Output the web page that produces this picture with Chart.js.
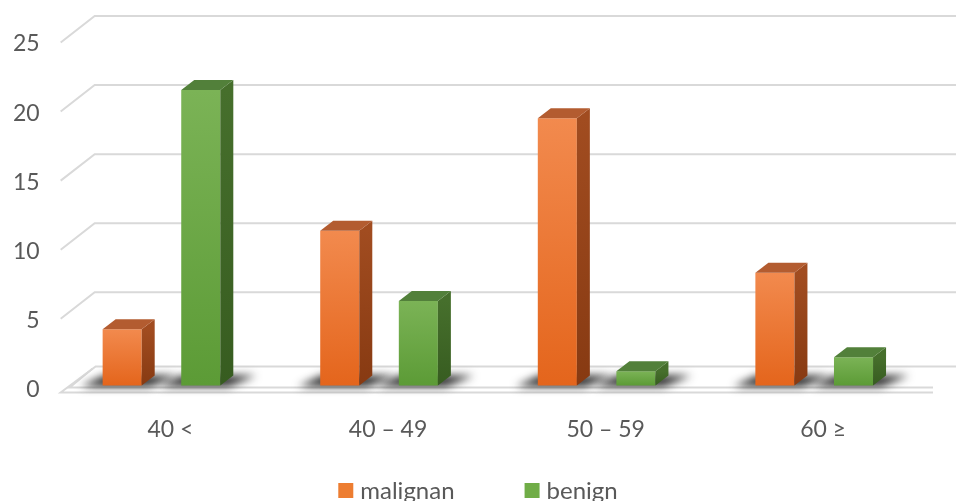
<!DOCTYPE html>
<html>
<head>
<meta charset="utf-8">
<script src="https://cdn.jsdelivr.net/npm/chart.js@4.4.1/dist/chart.umd.min.js"></script>
<style>
  html, body { margin: 0; padding: 0; background: #fff; }
  #wrap { width: 956px; height: 501px; }
</style>
</head>
<body>
<div id="wrap"><canvas id="bar3d" width="956" height="501"></canvas></div>
<script>
var categories = ['40 <', '40 \u2013 49', '50 \u2013 59', '60 \u2265'];
var seriesNames = ['malignan', 'benign'];
var malignan = [4, 11, 19, 8];
var benign = [21, 6, 1, 2];
var yTicks = [0, 5, 10, 15, 20, 25];

var textColor = '#595959';
var gridColor = '#d9d9d9';
var fontFam = 'Lato, "Open Sans", sans-serif';

// front / side / top colours per series
var faces = [
    { light: '#f28a4e', dark: '#e4651c', side1: '#a14c20', side2: '#873a12', top: '#b35c30', key: '#ed7d31' },
    { light: '#7bb356', dark: '#5c9b36', side1: '#466f2c', side2: '#375c20', top: '#52803a', key: '#70ad47' }
];

function frontFill(c) {
    var f = faces[c.datasetIndex];
    var ch = c.chart;
    if (!ch.chartArea || !ch.scales.y2 || c.parsed == null) return f.dark;
    var top = ch.scales.y2.getPixelForValue(c.parsed.y);
    var base = ch.scales.y2.getPixelForValue(0);
    var g = ch.ctx.createLinearGradient(0, top, 0, base);
    g.addColorStop(0, f.light);
    g.addColorStop(1, f.dark);
    return g;
}

var depthBar = { dx: 13, dy: -10 };

var wall3d = {
    id: 'wall3d',
    beforeDatasetsDraw: function (chart) {
        var ctx = chart.ctx, a = chart.chartArea, yl = chart.scales.y;
        ctx.save();
        ctx.strokeStyle = gridColor;
        ctx.lineWidth = 2;
        // back wall gridlines
        yTicks.forEach(function (v) {
            if (v === 0) return;
            var p = yl.getPixelForValue(v);
            ctx.beginPath();
            ctx.moveTo(a.left + 8, p - 1.5);
            ctx.lineTo(a.left + 42, p - 28);
            ctx.lineTo(chart.width, p - 28);
            ctx.stroke();
        });
        // floor slab
        var p0 = yl.getPixelForValue(0);
        ctx.beginPath();
        ctx.moveTo(chart.width, p0 - 23);
        ctx.lineTo(a.left + 43, p0 - 23);
        ctx.lineTo(a.left + 8, p0 + 3);
        ctx.lineTo(a.right + 10, p0 + 3);
        ctx.stroke();
        ctx.beginPath();
        ctx.moveTo(a.left + 40, p0 - 21);
        ctx.lineTo(a.left + 17, p0 - 2);
        ctx.lineTo(a.right + 10, p0 - 2);
        ctx.stroke();
        // shadows under bars
        ctx.filter = 'blur(4px)';
        ctx.fillStyle = 'rgba(20,20,20,0.92)';
        chart.data.datasets.forEach(function (ds, di) {
            chart.getDatasetMeta(di).data.forEach(function (el) {
                var x0 = el.x - el.width / 2, x1 = el.x + el.width / 2, b = el.base;
                ctx.beginPath();
                ctx.moveTo(x0 - 22, b + 1);
                ctx.lineTo(x1 + 8, b + 1);
                ctx.lineTo(x1 + 36, b - 10);
                ctx.lineTo(x0 + 2, b - 10);
                ctx.closePath();
                ctx.fill();
            });
        });
        ctx.restore();
    },
    afterDatasetsDraw: function (chart) {
        var ctx = chart.ctx;
        var dx = depthBar.dx, dy = depthBar.dy;
        ctx.save();
        chart.data.datasets.forEach(function (ds, di) {
            var f = faces[di];
            chart.getDatasetMeta(di).data.forEach(function (el) {
                var x0 = el.x - el.width / 2, x1 = el.x + el.width / 2;
                var t = el.y, b = el.base;
                var g = ctx.createLinearGradient(0, t, 0, b);
                g.addColorStop(0, f.side1);
                g.addColorStop(1, f.side2);
                ctx.fillStyle = g;
                ctx.beginPath();
                ctx.moveTo(x1, t);
                ctx.lineTo(x1 + dx, t + dy);
                ctx.lineTo(x1 + dx, b + dy);
                ctx.lineTo(x1, b);
                ctx.closePath();
                ctx.fill();
                ctx.fillStyle = f.top;
                ctx.beginPath();
                ctx.moveTo(x0, t);
                ctx.lineTo(x0 + dx, t + dy);
                ctx.lineTo(x1 + dx, t + dy);
                ctx.lineTo(x1, t);
                ctx.closePath();
                ctx.fill();
            });
        });
        ctx.restore();
    },
    afterDraw: function (chart) {
        // legend, drawn below the axis labels
        var ctx = chart.ctx;
        ctx.save();
        ctx.font = '24px ' + fontFam;
        ctx.textBaseline = 'middle';
        ctx.textAlign = 'left';
        var box = 15, gap = 7, between = 70;
        var widths = seriesNames.map(function (n) { return box + gap + ctx.measureText(n).width; });
        var x = (chart.width - (widths[0] + between + widths[1])) / 2;
        var y = 490;
        seriesNames.forEach(function (n, i) {
            ctx.fillStyle = faces[i].key;
            ctx.fillRect(x, y - 7, box, box);
            ctx.fillStyle = textColor;
            ctx.fillText(n, x + box + gap, y + 1);
            x += widths[i] + between;
        });
        ctx.restore();
    }
};

var config = {
    type: 'bar',
    data: {
        labels: categories,
        datasets: [{
            label: seriesNames[0],
            data: malignan,
            yAxisID: 'y2',
            backgroundColor: frontFill,
            borderWidth: 0,
            categoryPercentage: 0.7225,
            barPercentage: 0.497
        }, {
            label: seriesNames[1],
            data: benign,
            yAxisID: 'y2',
            backgroundColor: frontFill,
            borderWidth: 0,
            categoryPercentage: 0.7225,
            barPercentage: 0.497
        }]
    },
    options: {
        responsive: false,
        animation: false,
        layout: { padding: { top: 44, left: 0, right: 33, bottom: 32 } },
        plugins: {
            legend: { display: false },
            tooltip: { enabled: false }
        },
        scales: {
            x: {
                grid: { display: false, drawTicks: false },
                border: { display: false },
                ticks: { color: textColor, font: { family: fontFam, size: 23 }, padding: 26, labelOffset: 9 }
            },
            y: {
                min: 0,
                max: 25,
                grid: { display: false, drawTicks: false },
                border: { display: false },
                ticks: { stepSize: 5, color: textColor, font: { family: fontFam, size: 23 }, padding: 13 }
            },
            y2: {
                display: false,
                min: -0.285,
                max: 24.27
            }
        }
    },
    plugins: [wall3d]
};

new Chart(document.getElementById('bar3d').getContext('2d'), config);
</script>
</body>
</html>
